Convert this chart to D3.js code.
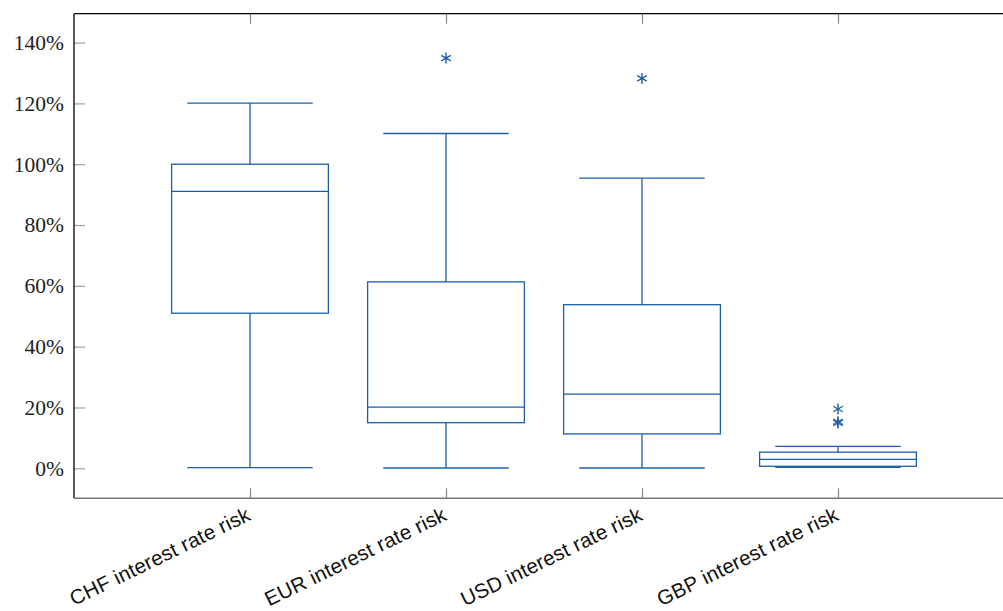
<!DOCTYPE html>
<html><head><meta charset="utf-8">
<script src="https://cdn.jsdelivr.net/npm/d3@7"></script>
<style>body{margin:0;background:#fff}svg{display:block}</style>
</head><body><svg id="c" width="1003" height="611"></svg>
<script>
const categories = ["CHF interest rate risk","EUR interest rate risk","USD interest rate risk","GBP interest rate risk"];
const lowerWhisker = [0.2, 0.1, 0.1, 0.3];
const q1 = [51.0, 15.0, 11.3, 0.66];
const median = [91.1, 20.1, 24.4, 2.96];
const q3 = [100.0, 61.3, 53.8, 5.3];
const upperWhisker = [120.1, 110.1, 95.4, 7.2];
const outliers = [[], [134.9], [128.2], [19.5, 15.3, 14.9]];
const yTicks = [0, 20, 40, 60, 80, 100, 120, 140];

const svg = d3.select("#c");
const pLeft = 74, pRight = 1014, pTop = 13.7, pBottom = 498.3;
const blue = "#1a5fa8";

const x = d3.scaleLinear().domain([0.102, 4.898]).range([pLeft, pRight]);
const y = d3.scaleLinear().domain([-9.87, 149.5]).range([pBottom, pTop]);
const step = x(2) - x(1);
const boxW = step * 0.8, capW = boxW * 0.8;

const yAxisL = d3.axisLeft(y).tickValues(yTicks).tickSize(-11).tickPadding(10).tickFormat(d => d + "%");
const gL = svg.append("g").attr("transform", `translate(${pLeft},0)`).call(yAxisL);
gL.select(".domain").remove();
gL.selectAll(".tick line").attr("stroke", "#a0a0a0").attr("stroke-width", 1.2);
gL.selectAll(".tick text").attr("font-family", "Liberation Serif, DejaVu Serif, serif").attr("font-size", 21.5).attr("fill", "#222").attr("dy", "0.32em");

const yAxisR = d3.axisRight(y).tickValues(yTicks).tickSize(-11).tickFormat("");
const gR = svg.append("g").attr("transform", `translate(${pRight},0)`).call(yAxisR);
gR.select(".domain").remove();
gR.selectAll(".tick line").attr("stroke", "#a0a0a0").attr("stroke-width", 1.2);

const pos = [1, 2, 3, 4];
const gB = svg.append("g").attr("transform", `translate(0,${pBottom})`)
  .call(d3.axisBottom(x).tickValues(pos).tickSize(-10).tickFormat(""));
gB.select(".domain").remove();
gB.selectAll(".tick line").attr("stroke", "#888").attr("stroke-width", 1.2);
const gT = svg.append("g").attr("transform", `translate(0,${pTop})`)
  .call(d3.axisTop(x).tickValues(pos).tickSize(-10).tickFormat(""));
gT.select(".domain").remove();
gT.selectAll(".tick line").attr("stroke", "#888").attr("stroke-width", 1.2);

svg.append("line").attr("x1", pLeft).attr("x2", pRight).attr("y1", pTop).attr("y2", pTop).attr("stroke", "#000").attr("stroke-width", 1.3);
svg.append("line").attr("x1", pLeft).attr("x2", pLeft).attr("y1", pTop).attr("y2", pBottom).attr("stroke", "#000").attr("stroke-width", 1.3);
svg.append("line").attr("x1", pRight).attr("x2", pRight).attr("y1", pTop).attr("y2", pBottom).attr("stroke", "#000").attr("stroke-width", 1.3);
svg.append("line").attr("x1", pLeft).attr("x2", pRight).attr("y1", pBottom).attr("y2", pBottom).attr("stroke", "#777").attr("stroke-width", 1.6);

categories.forEach((c, i) => {
  svg.append("text")
    .attr("transform", `translate(${x(pos[i]) + 2},${pBottom + 21}) rotate(-26)`)
    .attr("text-anchor", "end")
    .attr("font-family", "Liberation Sans, Arial, sans-serif")
    .attr("font-size", 20.5)
    .attr("letter-spacing", 0.2)
    .attr("fill", "#111")
    .text(c);
});

const g = svg.append("g").attr("stroke", blue).attr("fill", "none").attr("stroke-width", 1.3);
categories.forEach((c, i) => {
  const cx = x(pos[i]);
  g.append("line").attr("x1", cx).attr("x2", cx).attr("y1", y(q3[i])).attr("y2", y(upperWhisker[i]));
  g.append("line").attr("x1", cx).attr("x2", cx).attr("y1", y(q1[i])).attr("y2", y(lowerWhisker[i]));
  g.append("line").attr("x1", cx - capW / 2).attr("x2", cx + capW / 2).attr("y1", y(upperWhisker[i])).attr("y2", y(upperWhisker[i]));
  g.append("line").attr("x1", cx - capW / 2).attr("x2", cx + capW / 2).attr("y1", y(lowerWhisker[i])).attr("y2", y(lowerWhisker[i]));
  g.append("rect").attr("x", cx - boxW / 2).attr("width", boxW).attr("y", y(q3[i])).attr("height", y(q1[i]) - y(q3[i]));
  g.append("line").attr("x1", cx - boxW / 2).attr("x2", cx + boxW / 2).attr("y1", y(median[i])).attr("y2", y(median[i]));
  outliers[i].forEach(v => {
    const oy = y(v), r = 5.5;
    const a = Math.PI / 6;
    g.append("path").attr("stroke-width", 1.4)
      .attr("d", `M${cx},${oy - r}L${cx},${oy + r}` +
        `M${cx - r * Math.cos(a)},${oy - r * Math.sin(a)}L${cx + r * Math.cos(a)},${oy + r * Math.sin(a)}` +
        `M${cx - r * Math.cos(a)},${oy + r * Math.sin(a)}L${cx + r * Math.cos(a)},${oy - r * Math.sin(a)}`);
  });
});
</script></body></html>
